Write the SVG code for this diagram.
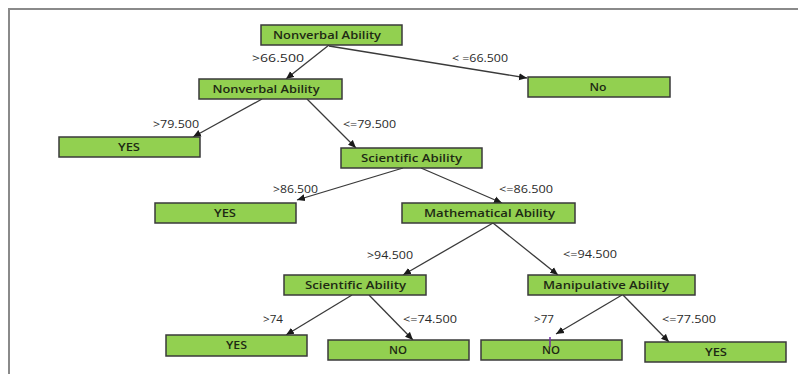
<svg xmlns="http://www.w3.org/2000/svg" width="798" height="374" viewBox="0 0 798 374">
<style>
.n rect{fill:#92D050;stroke:#3a3a3a;stroke-width:1.5}
.n text{font-family:"Open Sans","Liberation Sans",sans-serif;font-size:10.5px;font-weight:600;fill:#1e2a14;text-anchor:middle}
.c line{stroke:#3a3a3a;stroke-width:1.3;marker-end:url(#ah)}
.l{font-family:"Open Sans","Liberation Sans",sans-serif;font-size:10.5px;fill:#2a2a2a}
</style>
<defs>
<marker id="ah" markerUnits="userSpaceOnUse" markerWidth="9" markerHeight="8" refX="8" refY="4" orient="auto">
<path d="M0,0.5 L8,4 L0,7.5 Z" fill="#1a1a1a"/>
</marker>
</defs>
<rect width="798" height="374" fill="#ffffff"/>
<path d="M9,374 V9 H798" fill="none" stroke="#8a8a8a" stroke-width="2"/>
<g class="c" id="connectors">
<line x1="329" y1="45" x2="286" y2="79"/>
<line x1="329" y1="46" x2="527" y2="78"/>
<line x1="262" y1="99" x2="193" y2="137"/>
<line x1="307" y1="99" x2="356" y2="148"/>
<line x1="403" y1="168" x2="297" y2="200"/>
<line x1="421" y1="168" x2="502" y2="203"/>
<line x1="493" y1="223" x2="403" y2="275"/>
<line x1="493" y1="223" x2="558" y2="275"/>
<line x1="352" y1="295" x2="286" y2="335"/>
<line x1="369" y1="295" x2="413" y2="340"/>
<line x1="622" y1="295" x2="556" y2="334"/>
<line x1="623" y1="295" x2="669" y2="342"/>
</g>
<g id="edge-labels">
<text class="l" x="252" y="62" textLength="52" lengthAdjust="spacingAndGlyphs">&gt;66.500</text>
<text class="l" x="452" y="62" textLength="56" lengthAdjust="spacingAndGlyphs">&lt; =66.500</text>
<text class="l" x="153" y="128" textLength="46" lengthAdjust="spacingAndGlyphs">&gt;79.500</text>
<text class="l" x="343" y="128" textLength="53" lengthAdjust="spacingAndGlyphs">&lt;=79.500</text>
<text class="l" x="273" y="193" textLength="45" lengthAdjust="spacingAndGlyphs">&gt;86.500</text>
<text class="l" x="499" y="193" textLength="54" lengthAdjust="spacingAndGlyphs">&lt;=86.500</text>
<text class="l" x="367" y="259" textLength="46" lengthAdjust="spacingAndGlyphs">&gt;94.500</text>
<text class="l" x="563" y="258" textLength="54" lengthAdjust="spacingAndGlyphs">&lt;=94.500</text>
<text class="l" x="263" y="323" textLength="20" lengthAdjust="spacingAndGlyphs">&gt;74</text>
<text class="l" x="403" y="323" textLength="54" lengthAdjust="spacingAndGlyphs">&lt;=74.500</text>
<text class="l" x="534" y="323" textLength="20" lengthAdjust="spacingAndGlyphs">&gt;77</text>
<text class="l" x="662" y="323" textLength="54" lengthAdjust="spacingAndGlyphs">&lt;=77.500</text>
</g>
<g class="n" id="root"><rect x="261" y="25" width="141" height="20"/><text x="327" y="39" textLength="108" lengthAdjust="spacingAndGlyphs">Nonverbal Ability</text></g>
<g class="n" id="nonverbal2"><rect x="199" y="79" width="143" height="20"/><text x="266" y="93" textLength="107" lengthAdjust="spacingAndGlyphs">Nonverbal Ability</text></g>
<g class="n" id="no-top"><rect x="528" y="77" width="142" height="20"/><text x="598" y="91" textLength="17" lengthAdjust="spacingAndGlyphs">No</text></g>
<g class="n" id="yes1"><rect x="59" y="137" width="141" height="20"/><text x="129" y="151" textLength="22" lengthAdjust="spacingAndGlyphs">YES</text></g>
<g class="n" id="scientific1"><rect x="341" y="148" width="141" height="20"/><text x="411.5" y="162" textLength="101" lengthAdjust="spacingAndGlyphs">Scientific Ability</text></g>
<g class="n" id="yes2"><rect x="155" y="203" width="141" height="20"/><text x="225" y="217" textLength="22" lengthAdjust="spacingAndGlyphs">YES</text></g>
<g class="n" id="mathematical"><rect x="402" y="203" width="173" height="20"/><text x="489.5" y="217" textLength="131" lengthAdjust="spacingAndGlyphs">Mathematical Ability</text></g>
<g class="n" id="scientific2"><rect x="284" y="275" width="142" height="20"/><text x="355.5" y="289" textLength="101" lengthAdjust="spacingAndGlyphs">Scientific Ability</text></g>
<g class="n" id="manipulative"><rect x="528" y="275" width="167" height="20"/><text x="606" y="289" textLength="126" lengthAdjust="spacingAndGlyphs">Manipulative Ability</text></g>
<g class="n" id="yes3"><rect x="166" y="335" width="141" height="21"/><text x="236.5" y="349" textLength="21" lengthAdjust="spacingAndGlyphs">YES</text></g>
<g class="n" id="no1"><rect x="328" y="340" width="141" height="20"/><text x="398" y="354" textLength="18" lengthAdjust="spacingAndGlyphs">NO</text></g>
<g class="n" id="no2"><rect x="481" y="340" width="141" height="20"/><text x="551" y="354" textLength="18" lengthAdjust="spacingAndGlyphs">NO</text></g>
<g class="n" id="yes4"><rect x="645" y="342" width="141" height="20"/><text x="716" y="356" textLength="22" lengthAdjust="spacingAndGlyphs">YES</text></g>
<line x1="550" y1="337" x2="550" y2="347" stroke="#7030A0" stroke-width="1.5"/>
</svg>
